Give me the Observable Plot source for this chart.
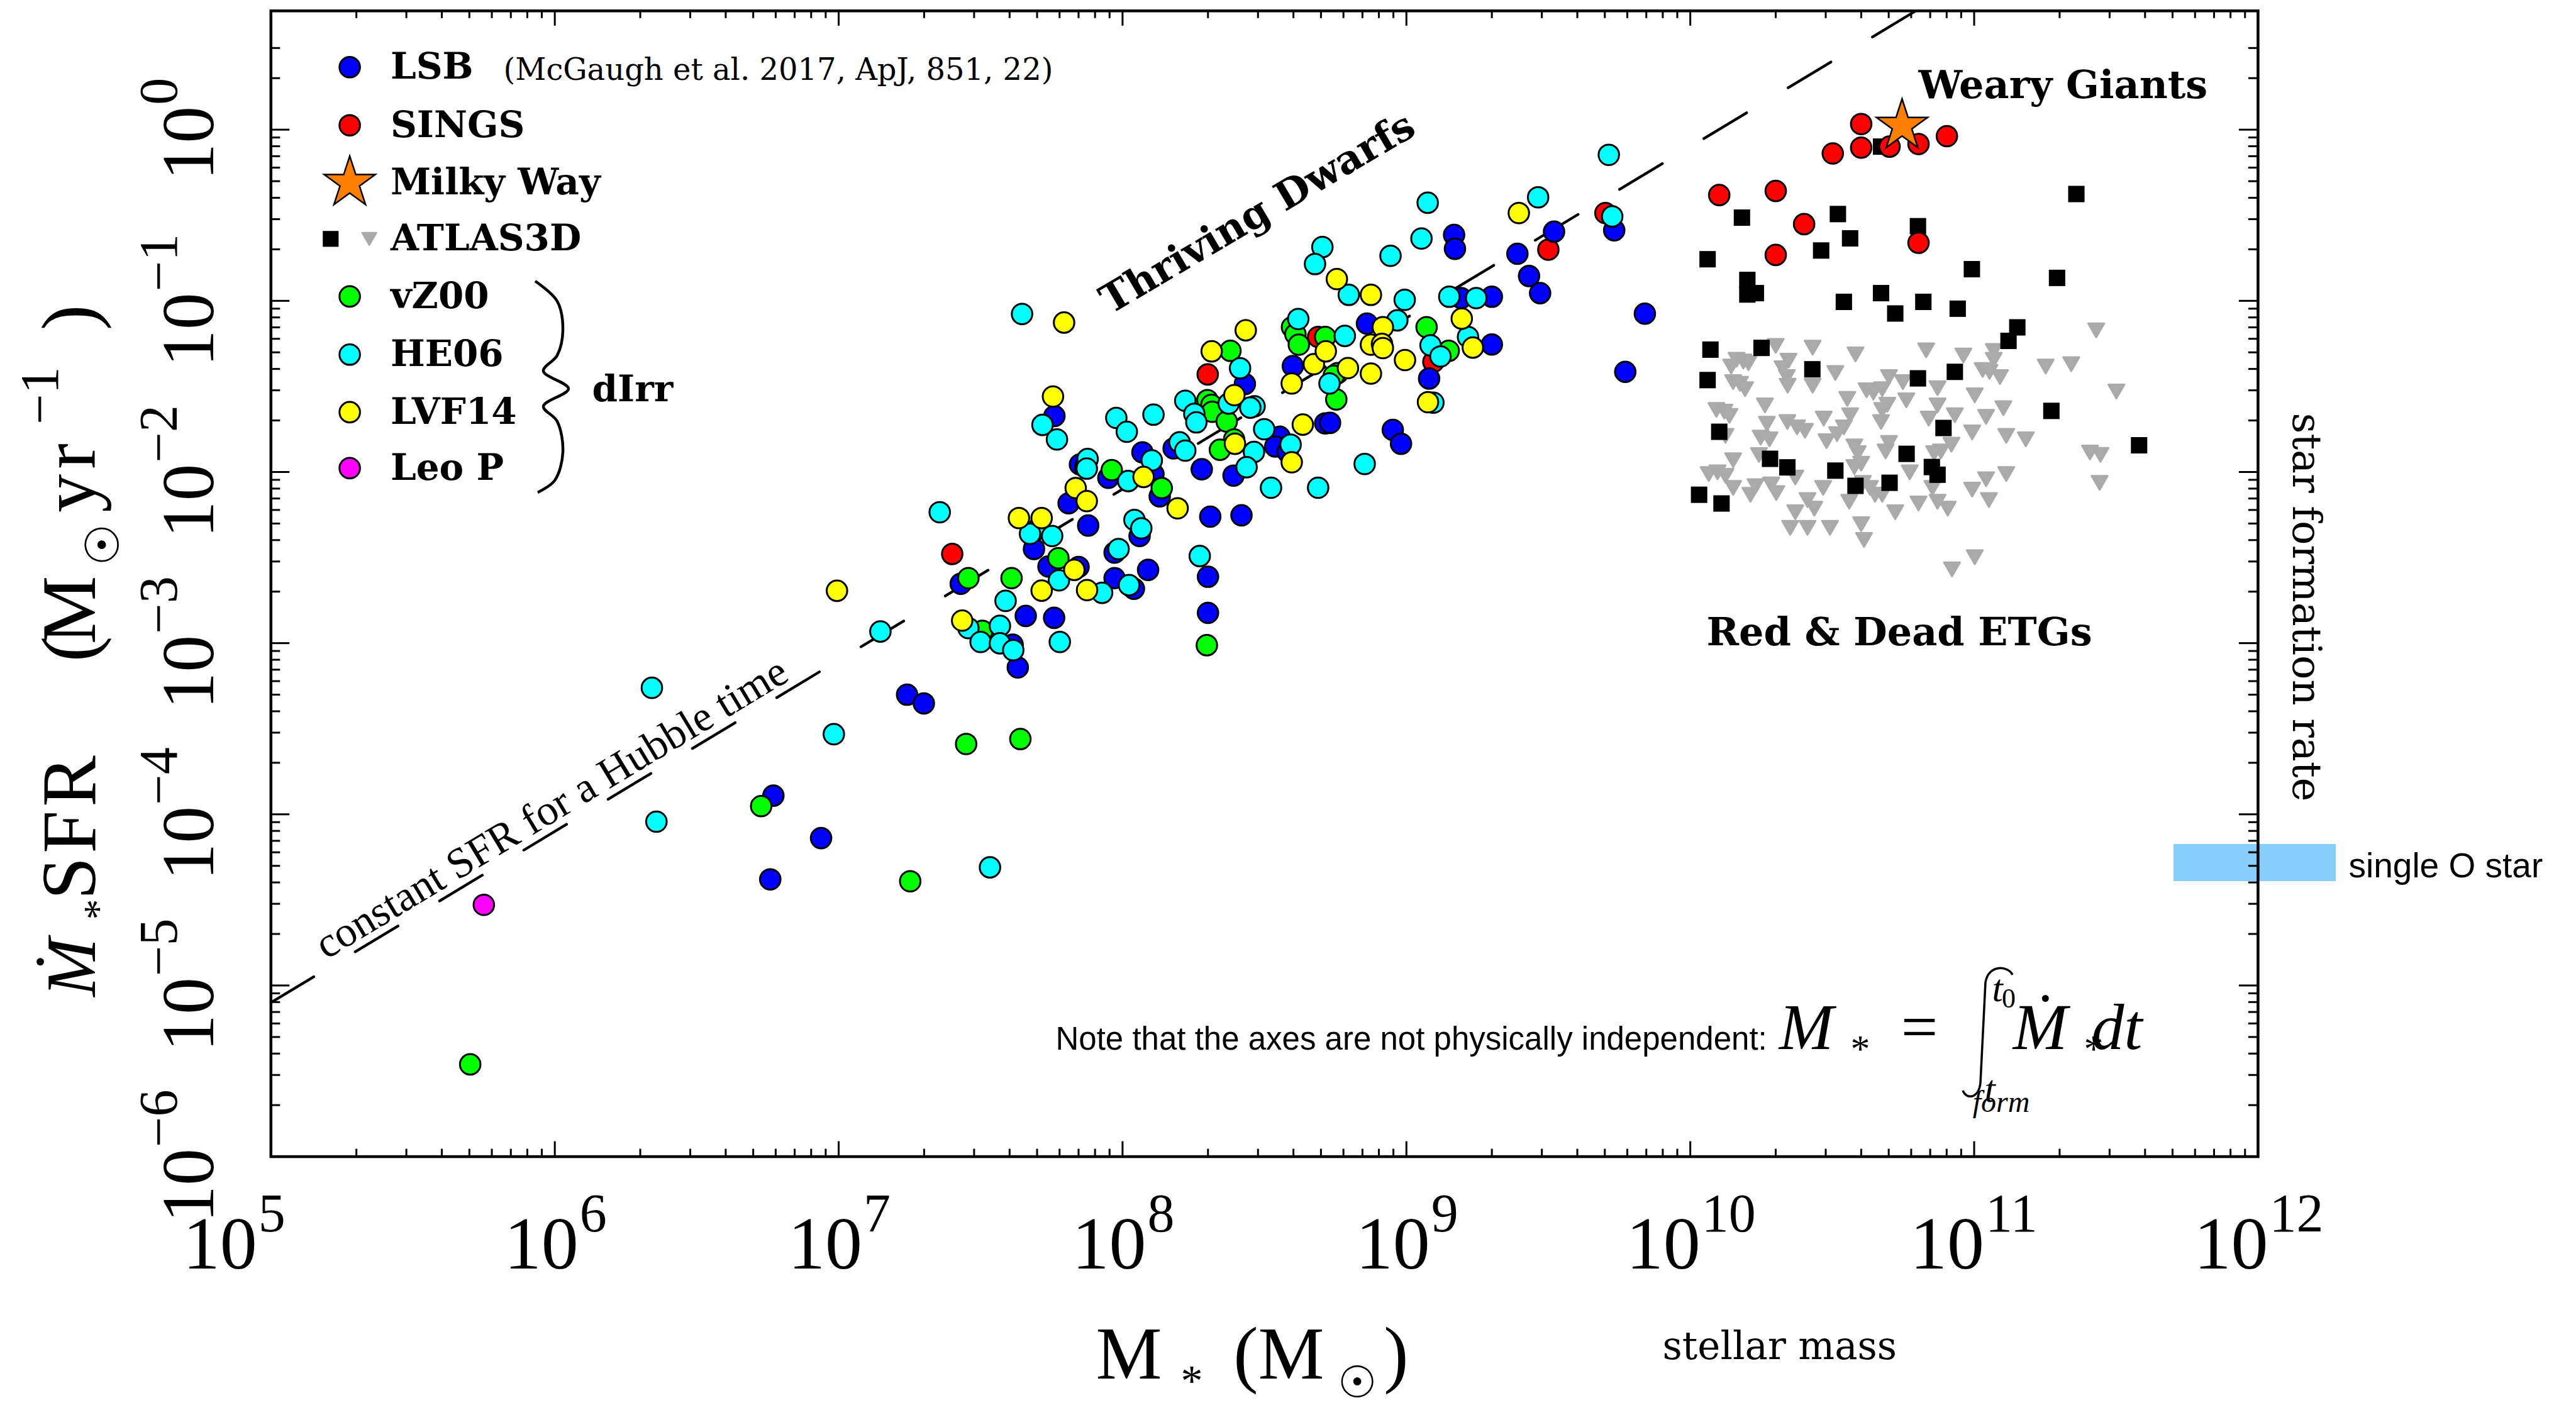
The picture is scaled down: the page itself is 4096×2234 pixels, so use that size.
<!DOCTYPE html>
<html><head><meta charset="utf-8">
<script src="https://cdn.jsdelivr.net/npm/d3@7"></script>
<script src="https://cdn.jsdelivr.net/npm/@observablehq/plot@0.6"></script>
<style>html,body{margin:0;padding:0;background:#fff;} svg{display:block}</style>
</head><body><div id="chart"></div>
<script>
// ---------------- DATA (log10 M*, log10 SFR) ----------------
const lsb = [[8.431,-1.486],[8.600,-1.381],[8.553,-1.794],[8.538,-1.851],[8.582,-1.883],[8.391,-2.021],[8.279,-1.984],[8.180,-1.862],[7.760,-1.673],[8.070,-1.885],[8.109,-2.013],[7.950,-2.034],[8.131,-2.142],[7.850,-1.956],[7.869,-1.972],[7.810,-2.183],
[7.688,-2.450],[7.879,-2.313],[8.060,-2.374],[8.309,-2.261],[8.419,-2.253],[7.430,-2.653],[7.739,-2.552],[7.845,-2.555],[7.972,-2.471],[7.972,-2.620],[8.040,-2.682],[8.090,-2.572],[8.301,-2.612],[8.301,-2.823],[7.659,-2.841],[7.759,-2.852],[7.613,-3.009],[7.631,-3.142],[7.241,-3.301],[7.300,-3.352],
[9.732,-0.588],[9.520,-0.596],[9.391,-0.725],[9.432,-0.855],[9.471,-0.955],[9.840,-1.075],[9.771,-1.415],[9.168,-0.615],[9.171,-0.696],[9.193,-0.984],[9.301,-0.976],[9.301,-1.255],[8.861,-1.133],[9.080,-1.454],[8.714,-1.716],[8.731,-1.713],[8.952,-1.754],[8.981,-1.835],
[6.770,-3.891],[6.938,-4.139],[6.759,-4.380]];
const sings = [[8.689,-1.211],[8.300,-1.430],[7.400,-2.479],[9.701,-0.487],[9.500,-0.701],[9.095,-1.357],
[10.602,0.033],[10.602,-0.105],[10.502,-0.139],[10.702,-0.099],[10.804,-0.084],[10.904,-0.038],[10.102,-0.382],[10.301,-0.358],[10.401,-0.552],[10.301,-0.732],[10.804,-0.661]];
const milkyWay = [[10.746,0.023]];
const vz00 = [[8.597,-1.154],[8.609,-1.195],[8.621,-1.256],[8.714,-1.211],[8.380,-1.292],[8.299,-1.580],[8.313,-1.608],[8.316,-1.648],[8.367,-1.705],[8.393,-1.810],[8.343,-1.870],[7.962,-1.989],[8.138,-2.094],
[7.457,-2.620],[7.609,-2.620],[7.774,-2.504],[7.506,-2.928],[8.297,-3.012],[7.449,-3.589],[7.640,-3.560],[7.252,-4.391],
[8.758,-1.422],[8.744,-1.438],[8.753,-1.576],[9.071,-1.154],[9.149,-1.292],
[6.727,-3.952],[5.702,-5.461]];
const he06 = [[7.646,-1.077],[8.704,-0.686],[8.678,-0.785],[8.619,-1.106],[8.414,-1.394],[8.221,-1.584],[8.374,-1.600],[8.253,-1.660],[8.260,-1.710],[8.465,-1.616],[8.450,-1.624],[8.499,-1.750],[8.592,-1.840],[8.463,-1.883],[8.437,-1.972],[8.201,-1.827],[8.221,-1.875],[8.523,-2.092],[8.689,-2.092],[7.718,-1.725],[7.769,-1.810],[7.978,-1.684],[8.015,-1.765],[8.109,-1.665],[8.103,-1.932],[8.020,-2.053],[7.877,-1.924],[7.874,-1.980],
[7.356,-2.235],[7.703,-2.329],[7.674,-2.361],[7.752,-2.374],[8.042,-2.280],[8.066,-2.329],[7.588,-2.753],[7.776,-2.633],[7.928,-2.706],[7.986,-2.450],[8.023,-2.661],[8.272,-2.491],[7.779,-2.993],[7.457,-2.912],[7.568,-2.899],[7.500,-2.993],[7.568,-3.001],[7.615,-3.041],[7.533,-4.310],
[9.713,-0.147],[9.464,-0.395],[9.725,-0.507],[9.075,-0.427],[9.053,-0.636],[8.944,-0.737],[8.797,-0.965],[8.994,-0.994],[9.151,-0.976],[9.246,-0.984],[9.217,-1.211],[8.968,-1.114],[8.783,-1.205],[8.729,-1.483],[9.085,-1.260],[9.120,-1.325],[9.095,-1.595],[8.853,-1.953],
[7.147,-2.932],[6.342,-3.261],[6.983,-3.532],[6.358,-4.043]];
const lvf14 = [[7.794,-1.127],[8.434,-1.172],[8.314,-1.295],[8.674,-1.370],[8.596,-1.483],[8.394,-1.551],[8.596,-1.943],[8.635,-1.723],[8.396,-1.835],[7.755,-1.559],[8.074,-2.029],[8.194,-2.212],[7.835,-2.094],[7.874,-2.170],
[7.635,-2.269],[7.715,-2.269],[7.830,-2.572],[7.715,-2.693],[7.875,-2.690],[7.435,-2.868],
[9.396,-0.487],[8.755,-0.873],[8.875,-0.965],[9.195,-1.104],[9.234,-1.273],[8.917,-1.154],[8.875,-1.256],[8.914,-1.252],[8.917,-1.276],[8.716,-1.295],[8.794,-1.393],[8.875,-1.425],[8.995,-1.346],[9.076,-1.592],
[6.994,-2.694]];
const leoP = [[5.750,-4.529]];
const atlasDetected = [[10.672,-0.099],[11.360,-0.376],[10.182,-0.514],[10.520,-0.493],[10.563,-0.635],[10.461,-0.706],[10.802,-0.564],[10.061,-0.757],[10.201,-0.878],[10.231,-0.955],[10.201,-0.963],[10.992,-0.815],[11.292,-0.866],[10.672,-0.955],[10.541,-1.006],[10.722,-1.074],[10.821,-1.006],[10.942,-1.046],[11.152,-1.155],[11.121,-1.234],[10.071,-1.285],[10.251,-1.275],[10.061,-1.463],[10.430,-1.400],[10.802,-1.453],[10.932,-1.415],[11.272,-1.643],[10.102,-1.765],[10.892,-1.743],[11.581,-1.844],[10.281,-1.923],[10.342,-1.973],[10.762,-1.894],[10.511,-1.992],[10.851,-1.971],[10.871,-2.016],[10.582,-2.081],[10.702,-2.063],[10.031,-2.133],[10.110,-2.184]];
const atlasLimits = [[11.430,-1.172],[10.301,-1.263],[10.431,-1.273],[10.582,-1.313],[10.831,-1.289],[10.962,-1.319],[11.069,-1.293],[11.069,-1.344],[10.163,-1.344],[10.187,-1.354],[10.144,-1.384],[10.205,-1.364],[10.346,-1.350],[10.325,-1.394],[10.511,-1.421],[10.700,-1.445],[11.252,-1.384],[11.342,-1.370],[11.030,-1.404],[11.054,-1.415],[11.091,-1.445],[10.151,-1.475],[10.175,-1.485],[10.193,-1.516],[10.340,-1.445],[10.343,-1.496],[10.431,-1.496],[10.749,-1.475],[10.621,-1.522],[10.645,-1.536],[10.676,-1.516],[10.871,-1.510],[11.501,-1.530],[11.002,-1.552],[10.263,-1.611],[10.092,-1.637],[10.120,-1.647],[10.138,-1.672],[10.553,-1.573],[10.761,-1.581],[10.694,-1.607],[10.676,-1.637],[10.871,-1.611],[11.103,-1.627],[10.932,-1.668],[11.042,-1.678],[10.840,-1.688],[10.470,-1.688],[10.563,-1.668],[10.672,-1.708],[10.270,-1.718],[10.342,-1.708],[10.376,-1.739],[10.404,-1.759],[10.541,-1.739],[10.517,-1.779],[10.480,-1.820],[10.124,-1.789],[10.248,-1.799],[10.279,-1.809],[10.993,-1.769],[11.113,-1.789],[11.182,-1.809],[10.920,-1.840],[10.578,-1.850],[10.590,-1.890],[10.700,-1.830],[10.688,-1.880],[10.883,-1.880],[10.859,-1.890],[11.408,-1.886],[11.445,-1.900],[10.151,-1.931],[10.242,-1.901],[10.602,-1.951],[10.578,-1.971],[10.065,-2.012],[10.096,-2.002],[10.124,-2.022],[10.151,-2.093],[10.212,-2.133],[10.230,-2.083],[10.285,-2.073],[10.303,-2.123],[10.370,-2.032],[10.468,-2.093],[10.608,-2.063],[10.633,-2.093],[10.651,-2.133],[10.676,-2.133],[10.773,-2.002],[10.853,-2.093],[10.871,-2.174],[10.907,-2.214],[10.804,-2.184],[11.113,-2.012],[11.042,-2.042],[10.993,-2.103],[11.052,-2.164],[11.442,-2.063],[10.413,-2.164],[10.437,-2.214],[10.370,-2.235],[10.560,-2.174],[10.722,-2.235],[10.352,-2.326],[10.413,-2.326],[10.492,-2.326],[10.602,-2.305],[10.612,-2.397],[11.002,-2.498],[10.922,-2.569]];
const xTickExponents = [5,6,7,8,9,10,11,12];
const yTickExponents = [-6,-5,-4,-3,-2,-1,0];
const logHubbleTime = 10.1;            // constant SFR for a Hubble time: SFR = M*/t_H
const oStarLogSFR = [-4.392, -4.175];  // single O star band

// ---------------- LAYOUT ----------------
const W = 4096, H = 2234;
const F = {left: 430.3, right: 3589.9, top: 16.8, bottom: 1838.6};
const FW = F.right - F.left, FH = F.bottom - F.top;
const XD = [5, 12], YD = [-6, 0.694];
const pxToM = px => 10 ** (XD[0] + (px - F.left) / FW * (XD[1] - XD[0]));
const pxToS = py => 10 ** (YD[1] - (py - F.top) / FH * (YD[1] - YD[0]));
const SERIF = "Liberation Serif, Times New Roman, serif";
const WSERIF = "DejaVu Serif, serif";
const TYPE = "DejaVu Serif, serif";
const SANS = "Liberation Sans, Arial, sans-serif";

const pts = a => a.map(([m, s]) => ({m: 10 ** m, s: 10 ** s}));
const circ = (data, fill) => Plot.dot(pts(data), {x: "m", y: "s", r: 16.3, fill, stroke: "black", strokeWidth: 3});
const triDown = {draw(ctx, size) { const r = Math.sqrt(size / Math.PI), h = Math.sqrt(3) * r;
  ctx.moveTo(-r, -h / 2); ctx.lineTo(r, -h / 2); ctx.lineTo(0, h / 2); ctx.closePath(); }};

const xMajor = xTickExponents.map(e => 10 ** e);
const xMinor = d3.range(5, 12).flatMap(e => d3.range(2, 10).map(k => k * 10 ** e));
const yMajor = yTickExponents.map(e => 10 ** e);
const yMinor = d3.range(-6, 0).flatMap(e => d3.range(2, 10).map(k => k * 10 ** e)).concat([2, 3]);
const tick = {stroke: "black", strokeWidth: 3};
const expStr = e => (e < 0 ? "\u2212" + (-e) : String(e));
const BLACK = {fill: "black"};

const xLab = (exps, j) => [
  Plot.text(exps, {x: d => 10 ** d, frameAnchor: "bottom", text: () => "10", textAnchor: "end", lineAnchor: "bottom", dx: j, dy: 178, fontSize: 118, fontFamily: SERIF, ...BLACK}),
  Plot.text(exps, {x: d => 10 ** d, frameAnchor: "bottom", text: expStr, textAnchor: "start", lineAnchor: "bottom", dx: j + 2, dy: 119, fontSize: 86, fontFamily: SERIF, ...BLACK})];
const yLab = (exps, j) => [
  Plot.text(exps, {y: d => 10 ** d, frameAnchor: "left", text: () => "10", rotate: -90, textAnchor: "end", lineAnchor: "bottom", dx: -91.6, dy: -j, fontSize: 118, fontFamily: SERIF, ...BLACK}),
  Plot.text(exps, {y: d => 10 ** d, frameAnchor: "left", text: expStr, rotate: -90, textAnchor: "start", lineAnchor: "bottom", dx: -149.5, dy: -j - 2, fontSize: 86, fontFamily: SERIF, ...BLACK})];

const hubbleLine = [XD[0], logHubbleTime + YD[1]].map(l => ({m: 10 ** l, s: 10 ** (l - logHubbleTime)}));

const legendRows = [
  {label: "LSB", fill: "#0000ff", y: 106.3}, {label: "SINGS", fill: "#ff0000", y: 198.7},
  {label: "Milky Way", y: 290.3}, {label: "ATLAS3D", y: 379.3},
  {label: "vZ00", fill: "#00ff00", y: 470.9}, {label: "HE06", fill: "#00ffff", y: 563.3},
  {label: "LVF14", fill: "#ffff00", y: 654.9}, {label: "Leo P", fill: "#ff00ff", y: 743.9}];
const LX = 555.6, LT = 620.4;

const annot = (txt, px, py, o) => Plot.text([txt], {x: () => pxToM(px), y: () => pxToS(py), text: d => d, textAnchor: "start", lineAnchor: "bottom", ...BLACK, ...o});

const plot = Plot.plot({
  width: W, height: H,
  marginLeft: F.left, marginRight: W - F.right, marginTop: F.top, marginBottom: H - F.bottom,
  x: {type: "log", domain: [10 ** XD[0], 10 ** XD[1]], axis: null},
  y: {type: "log", domain: [10 ** YD[0], 10 ** YD[1]], axis: null},
  style: {background: "white", color: "black", overflow: "visible", maxWidth: "none"},
  marks: [
    Plot.rect([oStarLogSFR], {x1: () => pxToM(3456), x2: () => pxToM(3714), y1: d => 10 ** d[0], y2: d => 10 ** d[1], fill: "#87cefa"}),
    Plot.line(hubbleLine, {x: "m", y: "s", stroke: "black", strokeWidth: 4.3, strokeDasharray: "79.5,77"}),
    Plot.dot(pts(atlasLimits), {x: "m", y: "s", symbol: triDown, r: 12.7, fill: "#aaaaaa", stroke: "#aaaaaa", strokeWidth: 3, strokeLinejoin: "round"}),
    Plot.dot(pts(atlasDetected), {x: "m", y: "s", symbol: "square", r: 14.7, fill: "black"}),
    circ(sings, "#ff0000"),
    circ(lsb, "#0000ff"),
    circ(vz00, "#00ff00"),
    circ(he06, "#00ffff"),
    circ(lvf14, "#ffff00"),
    circ(leoP, "#ff00ff"),
    Plot.dot(pts(milkyWay), {x: "m", y: "s", symbol: "star", r: 25.5, fill: "#ff8000", stroke: "black", strokeWidth: 2.5}),
    // ticks (inward, all four sides)
    Plot.ruleX(xMajor, {x: d => d, insetTop: FH - 24, ...tick}),
    Plot.ruleX(xMajor, {x: d => d, insetBottom: FH - 24, ...tick}),
    Plot.ruleX(xMinor, {x: d => d, insetTop: FH - 12, ...tick}),
    Plot.ruleX(xMinor, {x: d => d, insetBottom: FH - 12, ...tick}),
    Plot.ruleY(yMajor, {y: d => d, insetRight: FW - 30, ...tick}),
    Plot.ruleY(yMajor, {y: d => d, insetLeft: FW - 30, ...tick}),
    Plot.ruleY(yMinor, {y: d => d, insetRight: FW - 15, ...tick}),
    Plot.ruleY(yMinor, {y: d => d, insetLeft: FW - 15, ...tick}),
    Plot.frame({stroke: "black", strokeWidth: 4.5}),
    ...xLab(xTickExponents.filter(e => e === 5), -22),
    ...xLab(xTickExponents.filter(e => e > 5 && e < 10), 37.5),
    ...xLab(xTickExponents.filter(e => e >= 10), 16),
    ...yLab(yTickExponents.filter(e => e < 0), 13),
    ...yLab(yTickExponents.filter(e => e === 0), 37.5),
    // annotations
    Plot.text(["constant SFR for a Hubble time"], {x: () => 10 ** 5.209, y: () => 10 ** (5.209 - logHubbleTime), text: d => d, textAnchor: "start", lineAnchor: "bottom", rotate: -31.1, dx: -6.7, dy: -11.1, fontSize: 68, fontFamily: SERIF, ...BLACK}),
    annot("Thriving Dwarfs", 1765, 500, {rotate: -30.5, fontSize: 63, fontFamily: TYPE, fontWeight: "bold"}),
    annot("Weary Giants", 3050, 155.5, {fontSize: 62, fontFamily: TYPE, fontWeight: "bold"}),
    annot("Red & Dead ETGs", 2713, 1025, {fontSize: 62, fontFamily: TYPE, fontWeight: "bold"}),
    annot("single O star", 3734, 1394, {fontSize: 55, fontFamily: SANS}),
    annot("Note that the axes are not physically independent:", 1678, 1668, {fontSize: 51, fontFamily: SANS}),
    annot("(McGaugh et al. 2017, ApJ, 851, 22)", 800, 126, {fontSize: 48, fontFamily: WSERIF}),
    annot("stellar mass", 2643, 2160, {fontSize: 61, fontFamily: WSERIF}),
    annot("dIrr", 941, 637, {fontSize: 58, fontFamily: TYPE, fontWeight: "bold"}),
    Plot.text(["star formation rate"], {x: () => pxToM(3645), y: () => pxToS(965), text: d => d, rotate: 90, textAnchor: "middle", lineAnchor: "bottom", fontSize: 64, fontFamily: WSERIF, ...BLACK}),
    // legend
    Plot.dot(legendRows.filter(d => d.fill), {x: () => pxToM(LX), y: d => pxToS(d.y), r: 16.3, fill: d => d.fill, stroke: "black", strokeWidth: 3}),
    Plot.dot(legendRows.filter(d => d.label === "Milky Way"), {x: () => pxToM(LX), y: d => pxToS(d.y), symbol: "star", r: 25.5, fill: "#ff8000", stroke: "black", strokeWidth: 2.5}),
    Plot.dot(legendRows.filter(d => d.label === "ATLAS3D"), {x: () => pxToM(525.3), y: d => pxToS(d.y), symbol: "square", r: 14.2, fill: "black"}),
    Plot.dot(legendRows.filter(d => d.label === "ATLAS3D"), {x: () => pxToM(586.7), y: d => pxToS(d.y), symbol: triDown, r: 11, fill: "#aaaaaa", stroke: "#aaaaaa", strokeWidth: 3, strokeLinejoin: "round"}),
    Plot.text(legendRows, {x: () => pxToM(LT), y: d => pxToS(d.y), text: "label", textAnchor: "start", lineAnchor: "middle", fontSize: 58, fontFamily: TYPE, fontWeight: "bold", ...BLACK})
  ]
});
document.getElementById("chart").appendChild(plot);

// ---------- rich text pieces (axis titles, formula) and brace ----------
const svg = d3.select(plot);
const g = svg.append("g").attr("fill", "black").attr("font-family", SERIF);
// each piece: own text element; `a` = offset along the reading direction, `o` = shift across (sub/superscript)
function rich(x0, y0, rot, size, parts) {
  const rad = rot * Math.PI / 180, ux = Math.cos(rad), uy = Math.sin(rad);
  for (const p of parts) {
    const t = g.append("text")
      .attr("transform", `translate(${x0 + p.a * ux},${y0 + p.a * uy}) rotate(${rot})`)
      .attr("y", p.o || 0).attr("font-size", p.size || size).text(p.t);
    if (p.italic) t.attr("font-style", "italic");
    if (p.ls) t.attr("letter-spacing", p.ls);
    if (p.font) t.attr("font-family", p.font);
  }
}
// y axis title (reads bottom-to-top)
rich(151, 1518, -90, 122, [
  {a: -20, t: "\u1E40", italic: true, size: 112},
  {a: 72, t: "*", size: 66, o: 27},
  {a: 205, t: "SFR", ls: 6},
  {a: 486, t: "("},
  {a: 548, t: "M"},
  {a: 652, t: "\u2609", size: 75, o: 38, font: "DejaVu Sans, sans-serif"},
  {a: 762, t: "yr", ls: 8},
  {a: 889, t: "\u22121", size: 86, o: -59},
  {a: 1013, t: ")"}]);
// x axis title
rich(1795, 2192, 0, 118, [
  {a: 0, t: "M"},
  {a: 100, t: "*", size: 70, o: 27},
  {a: 186, t: "("},
  {a: 258, t: "M"},
  {a: 363, t: "\u2609", size: 70, o: 30, font: "DejaVu Sans, sans-serif"},
  {a: 425, t: ")"}]);
// formula  M* = ∫ Ṁ* dt
rich(2872, 1668, 0, 104, [
  {a: 0, t: "M", italic: true},
  {a: 86, t: "*", size: 62, o: 20},
  {a: 180, t: "="},
  {a: 372, t: "\u1E40", italic: true},
  {a: 457, t: "*", size: 62, o: 20},
  {a: 494, t: "dt", italic: true}]);
rich(3176, 1592, 0, 62, [{a: 0, t: "t", italic: true}, {a: 18, t: "0", size: 44, o: 10}]);
rich(3164, 1752, 0, 62, [{a: 0, t: "t", italic: true}, {a: 18, t: "form", size: 48, o: 16, italic: true}]);
g.append("path").attr("fill", "none").attr("stroke", "black").attr("stroke-width", 3.5)
  .attr("d", "M3200,1550 C3194,1536 3162,1532 3157,1562 L3149,1722 C3146,1748 3126,1748 3121,1734");
// legend brace
const bracePts = [[851,447],[886,479],[895,525],[886,565],[864,590],[904,618],[864,646],[886,670],[895,719],[882,764],[855,783]];
g.append("path").attr("fill", "none").attr("stroke", "black").attr("stroke-width", 4.5)
  .attr("d", d3.line().curve(d3.curveCatmullRom)(bracePts));
</script>
</body></html>
